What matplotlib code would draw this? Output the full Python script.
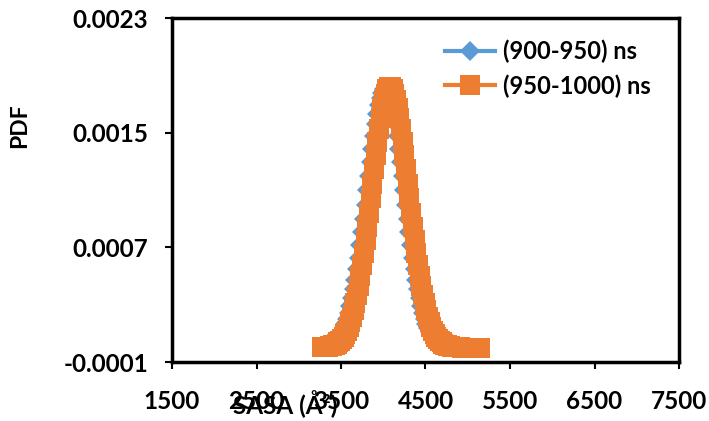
import matplotlib
matplotlib.use("Agg")
import matplotlib.pyplot as plt

plt.rcParams['font.family'] = ['Lato', 'DejaVu Sans']

# SASA grid (A^2)
sasa = [3270, 3290, 3310, 3330, 3350, 3370, 3390, 3410, 3430, 3450,
        3470, 3490, 3510, 3530, 3550, 3570, 3590, 3610, 3630, 3650,
        3670, 3690, 3710, 3730, 3750, 3770, 3790, 3810, 3830, 3850,
        3870, 3890, 3910, 3930, 3950, 3970, 3990, 4010, 4030, 4050,
        4070, 4090, 4110, 4130, 4150, 4170, 4190, 4210, 4230, 4250,
        4270, 4290, 4310, 4330, 4350, 4370, 4390, 4410, 4430, 4450,
        4470, 4490, 4510, 4530, 4550, 4570, 4590, 4610, 4630, 4650,
        4670, 4690, 4710, 4730, 4750, 4770, 4790, 4810, 4830, 4850,
        4870, 4890, 4910, 4930, 4950, 4970, 4990, 5010, 5030, 5050,
        5070, 5090, 5110, 5130, 5150]

pdf_900_950 = [0.0000046, 0.0000063, 0.0000085, 0.0000115, 0.0000152, 0.0000201, 0.0000263, 0.0000341,
               0.0000439, 0.0000560, 0.0000709, 0.0000890, 0.000111, 0.000137, 0.000167, 0.000203,
               0.000245, 0.000293, 0.000347, 0.000407, 0.000474, 0.000548, 0.000628, 0.000714,
               0.000805, 0.000900, 0.000998, 0.001098, 0.001197, 0.001295, 0.001389, 0.001478,
               0.001560, 0.001632, 0.001694, 0.001744, 0.001780, 0.001803,
               0.001810,
               0.001803, 0.001780, 0.001744, 0.001694, 0.001632, 0.001560, 0.001478, 0.001389,
               0.001295, 0.001197, 0.001098, 0.000998, 0.000900, 0.000805, 0.000714, 0.000628,
               0.000548, 0.000474, 0.000407, 0.000347, 0.000293, 0.000245, 0.000203, 0.000167,
               0.000137, 0.000111, 0.0000890, 0.0000709, 0.0000560, 0.0000439, 0.0000341, 0.0000263,
               0.0000201, 0.0000152, 0.0000115, 0.0000085, 0.0000063, 0.0000046,
               0.0000034, 0.0000024, 0.0000017, 0.0000012, 0.0000009, 0.0000006, 0.0000004, 0.0000003,
               0.0000002, 0.0000002, 0.0000001, 0.0000001, 0.0000001, 0.0, 0.0, 0.0, 0.0, 0.0]

pdf_950_1000 = [0.0000018, 0.0000026, 0.0000036, 0.0000049, 0.0000067, 0.0000090, 0.0000121, 0.0000162,
                0.0000214, 0.0000280, 0.0000363, 0.0000467, 0.0000596, 0.0000755, 0.0000947, 0.000118,
                0.000146, 0.000178, 0.000216, 0.000260, 0.000310, 0.000367, 0.000431, 0.000502,
                0.000579, 0.000662, 0.000751, 0.000845, 0.000943, 0.001043, 0.001144, 0.001245,
                0.001343, 0.001436, 0.001524, 0.001602, 0.001671, 0.001729, 0.001773, 0.001803,
                0.001818,
                0.001818, 0.001803, 0.001773, 0.001729, 0.001671, 0.001602, 0.001524, 0.001436,
                0.001343, 0.001245, 0.001144, 0.001043, 0.000943, 0.000845, 0.000751, 0.000662,
                0.000579, 0.000502, 0.000431, 0.000367, 0.000310, 0.000260, 0.000216, 0.000178,
                0.000146, 0.000118, 0.0000947, 0.0000755, 0.0000596, 0.0000467, 0.0000363, 0.0000280,
                0.0000214, 0.0000162, 0.0000121, 0.0000090, 0.0000067, 0.0000049, 0.0000036, 0.0000026,
                0.0000018,
                0.0000013, 0.0000009, 0.0000006, 0.0000004, 0.0000003, 0.0000002, 0.0000001, 0.0000001,
                0.0000001, 0.0, 0.0, 0.0, 0.0]

series_labels = ["(900-950) ns", "(950-1000) ns"]
xticks = [1500, 2500, 3500, 4500, 5500, 6500, 7500]
yticks = [-0.0001, 0.0007, 0.0015, 0.0023]
ytick_labels = ["-0.0001", "0.0007", "0.0015", "0.0023"]

blue = "#5B9BD5"
orange = "#ED7D31"

fig = plt.figure(figsize=(7.09, 4.21), dpi=100)
ax = fig.add_axes([172 / 709, 1 - 362 / 421, (679 - 172) / 709, (362 - 18) / 421])

ax.plot(sasa, pdf_900_950, color=blue, lw=3, marker="D", ms=10, mew=0, label=series_labels[0])
ax.plot(sasa, pdf_950_1000, color=orange, lw=3, marker="s", ms=14, mew=0, label=series_labels[1])

ax.set_xlim(1500, 7500)
ax.set_ylim(-0.0001, 0.0023)
ax.set_xticks(xticks)
ax.set_xticklabels([str(t) for t in xticks])
ax.set_yticks(yticks)
ax.set_yticklabels(ytick_labels)

for s in ax.spines.values():
    s.set_linewidth(2.5)
    s.set_color("black")
ax.tick_params(axis="both", direction="out", length=5, width=1.5, labelsize=17.5)
ax.tick_params(axis="x", pad=15)
ax.tick_params(axis="y", pad=12)
for lab in ax.get_xticklabels() + ax.get_yticklabels():
    lab.set_fontweight("bold")

fig.text(20 / 709, 1 - 126 / 421, "PDF", rotation=90, ha="center", va="center",
         fontsize=16.5, fontweight="bold")
fig.text(285 / 709, 1 - 404 / 421, "SASA (Å²)", ha="center", va="center",
         fontsize=17.5, fontweight="bold")

ax.legend(loc="upper left", bbox_to_anchor=(445 / 709, 1 - 40 / 421), bbox_transform=fig.transFigure,
          frameon=False, prop={"weight": "bold", "size": 17}, handlelength=2.1,
          handletextpad=0.35, labelspacing=0.45, borderpad=0, borderaxespad=0)

fig.savefig("out.png", dpi=100)
